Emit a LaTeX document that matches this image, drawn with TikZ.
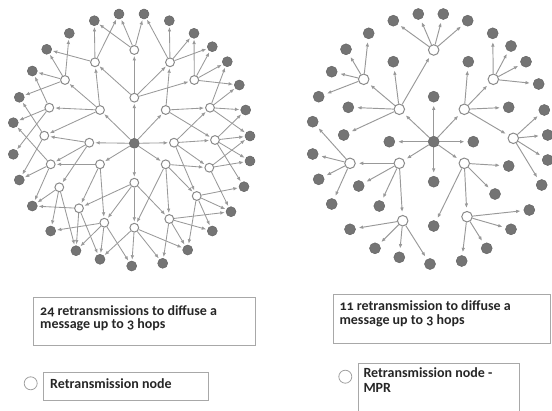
\documentclass[tikz,border=0pt]{standalone}
\usepackage{fontspec}
\setmainfont[Numbers=OldStyle]{Carlito}
\usetikzlibrary{arrows.meta}
\definecolor{gfill}{HTML}{747474}
\definecolor{gdraw}{HTML}{666666}
\definecolor{wdraw}{HTML}{8A8A8A}
\definecolor{edgec}{HTML}{999999}
\definecolor{boxc}{HTML}{A8A8A8}
\definecolor{legc}{HTML}{A0A0A0}
\pgfdeclarelayer{bg}
\pgfsetlayers{bg,main}
\begin{document}
\begin{tikzpicture}[x=1pt,y=-1pt,
  gn/.style={circle,fill=gfill,draw=gdraw,line width=0.5pt,minimum size=10pt,inner sep=0pt},
  wn/.style={circle,fill=white,draw=wdraw,line width=1pt,minimum size=8.8pt,inner sep=0pt},
  gnr/.style={gn,minimum size=11pt},
  wnr/.style={wn,minimum size=10.5pt},
  ar/.style={draw=edgec,line width=0.85pt,-{Latex[length=4.5pt,width=3.6pt]},shorten >=1pt},
  arr/.style={ar,line width=0.95pt,shorten >=3pt},
  txt/.style={anchor=base west,inner sep=0pt,font=\bfseries\fontsize{14}{14}\selectfont,text=black!85},
  tbox/.style={draw=boxc,line width=0.9pt,anchor=north west,inner sep=0pt},
  leg/.style={circle,draw=legc,line width=0.8pt,fill=white,minimum size=13pt,inner sep=0pt}]
\useasboundingbox (0,0) rectangle (552,410);

% ---------------- left graph ----------------
\node[gn] (Lc) at (134.3,143.3) {};
\foreach \n/\x/\y in {1/134.3/50.0,2/95.0/62.3,3/170.0/62.3,4/65.0/80.0,5/194.3/80.0,
  6/134.3/97.7,7/100.0/110.0,8/165.7/110.0,9/49.3/107.7,10/210.0/107.7,
  11/44.3/135.7,12/89.3/142.7,13/174.0/142.7,14/215.0/140.0,15/50.7/164.3,
  16/100.0/164.3,17/165.7/164.3,18/209.3/167.7,19/134.3/182.7,20/59.3/187.3,
  21/196.7/196.0,22/79.0/208.3,23/104.3/222.7,24/169.3/219.0,25/134.3/227.7}
  \node[wn] (Lw\n) at (\x,\y) {};
\foreach \n/\x/\y in {1/94.3/20.7,2/119.0/14.0,3/144.0/14.0,4/169.3/20.7,5/194.0/33.3,
  6/212.3/46.7,7/227.3/61.7,8/239.3/85.0,9/245.7/110.0,10/250.0/136.0,
  11/250.0/161.0,12/244.0/186.7,13/231.0/211.7,14/212.3/231.0,15/187.7/250.0,
  16/162.7/263.3,17/131.7/266.0,18/100.0/259.3,19/76.0/250.7,20/50.7/231.0,
  21/32.3/206.0,22/19.3/180.0,23/13.3/154.3,24/13.3/122.7,25/19.3/97.3,
  26/32.3/71.0,27/46.7/49.3,28/69.3/33.3}
  \node[gn] (Lg\n) at (\x,\y) {};

\begin{pgfonlayer}{bg}
\foreach \a/\b in {Lc/Lw6,Lc/Lw12,Lc/Lw13,Lc/Lw19,Lc/Lw7,Lc/Lw8,Lc/Lw16,Lc/Lw17,
  Lw6/Lw1,Lw6/Lw2,Lw6/Lw3,Lw6/Lw5,
  Lw1/Lg2,Lw1/Lg3,Lw1/Lg1,
  Lw2/Lg1,Lw2/Lg2,Lw2/Lg27,
  Lw7/Lw2,Lw7/Lw4,Lw7/Lw9,Lw7/Lw11,
  Lw4/Lg27,Lw4/Lg26,Lw4/Lg28,Lw4/Lg25,
  Lw3/Lg3,Lw3/Lg4,Lw3/Lg5,Lw3/Lg6,
  Lw8/Lw3,Lw8/Lw10,Lw8/Lw14,
  Lw5/Lg5,Lw5/Lg6,Lw5/Lg7,Lw5/Lg8,
  Lw10/Lg7,Lw10/Lg8,Lw10/Lg9,Lw10/Lg10,
  Lw13/Lw10,Lw13/Lw14,Lw13/Lw18,Lw13/Lw21,
  Lw14/Lg9,Lw14/Lg10,Lw14/Lg11,Lw14/Lg12,
  Lw9/Lg26,Lw9/Lg24,Lw9/Lg23,
  Lw11/Lg25,Lw11/Lg22,
  Lw12/Lw11,Lw12/Lw15,Lw12/Lw20,
  Lw16/Lw15,Lw16/Lw23,Lw16/Lw22,
  Lw15/Lg24,Lw15/Lg22,Lw15/Lg21,
  Lw17/Lw18,Lw17/Lw24,Lw17/Lw21,Lw17/Lw25,
  Lw18/Lg10,Lw18/Lg11,Lw18/Lg13,
  Lw19/Lw25,Lw19/Lw22,Lw19/Lw23,Lw19/Lw24,
  Lw20/Lg21,Lw20/Lg20,Lw20/Lg19,
  Lw22/Lg21,Lw22/Lg19,Lw22/Lg18,
  Lw23/Lg20,Lw23/Lg19,Lw23/Lg18,Lw23/Lg17,
  Lw21/Lg12,Lw21/Lg13,Lw21/Lg14,Lw21/Lg15,
  Lw24/Lg13,Lw24/Lg14,Lw24/Lg15,Lw24/Lg16,
  Lw25/Lg15,Lw25/Lg16,Lw25/Lg17,Lw25/Lg18}
  \draw[ar] (\a) -- (\b);
\end{pgfonlayer}

% ---------------- right graph ----------------
\node[gnr] (Rc) at (433.7,141.7) {};
\foreach \n/\x/\y in {1/433.7/50.0,2/363.7/79.3,3/399.3/109.3,4/464.3/109.3,
  5/493.3/79.3,6/513.3/138.3,7/464.3/163.3,8/399.3/163.3,9/350.0/163.3,
  10/402.7/220.7,11/467.0/216.7}
  \node[wnr] (M\n) at (\x,\y) {};
\foreach \n/\x/\y in {t1/393.3/20.7,t2/418.3/14.0,t3/443.3/14.0,t4/467.7/20.7,
  a1/368.7/33.3,a2/346.0/49.3,a3/331.7/71.7,a4/318.7/96.7,
  b1/393.3/61.7,b2/348.3/107.3,b3/343.7/135.0,
  c1/468.3/61.7,c2/508.7/107.3,
  d1/492.7/33.3,d2/511.0/46.0,d3/526.0/61.7,d4/538.7/84.0,
  e1/544.3/110.0,e2/547.7/135.0,e3/547.7/160.0,e4/541.7/185.0,
  i1/433.7/96.7,i2/389.3/141.7,i3/473.3/141.7,i4/433.7/181.7,
  f1/508.7/166.0,f2/495.0/194.0,f3/433.7/226.0,
  h1/358.7/186.0,h2/379.3/206.0,
  j1/312.7/121.7,j2/312.7/154.0,j3/318.7/179.3,j4/331.7/204.0,
  k1/350.0/229.3,k2/375.0/248.3,k3/399.3/257.3,k4/430.0/264.0,
  l1/529.3/210.0,l2/511.0/229.3,l3/486.7/248.3,l4/461.7/261.0}
  \node[gnr] (R\n) at (\x,\y) {};

\begin{pgfonlayer}{bg}
\foreach \a/\b in {Rc/Ri1,Rc/Ri2,Rc/Ri3,Rc/Ri4,Rc/M3,Rc/M4,Rc/M7,Rc/M8,
  M1/Rt1,M1/Rt2,M1/Rt3,M1/Rt4,
  M2/Ra1,M2/Ra2,M2/Ra3,M2/Ra4,
  M3/M1,M3/M2,M3/Rb1,M3/Rb2,M3/Rb3,
  M4/Rc1,M4/M5,M4/Rc2,M4/M6,
  M5/Rd1,M5/Rd2,M5/Rd3,M5/Rd4,
  M6/Re1,M6/Re2,M6/Re3,M6/Re4,
  M7/Rf1,M7/Rf2,M7/M11,M7/Rf3,
  M8/M9,M8/Rh1,M8/Rh2,M8/M10,
  M9/Rj1,M9/Rj2,M9/Rj3,M9/Rj4,
  M10/Rk1,M10/Rk2,M10/Rk3,M10/Rk4,
  M11/Rl1,M11/Rl2,M11/Rl3,M11/Rl4}
  \draw[arr] (\a) -- (\b);
\end{pgfonlayer}

% ---------------- captions ----------------
\node[tbox,minimum width=221.7pt,minimum height=48.3pt] (box1) at (33.3,296.7) {};
\node[txt] (t1a) at (40,315.3) {24 retransmissions to diffuse a};
\node[txt] (t1b) at (40,328.3) {message up to 3 hops};

\node[tbox,minimum width=217.3pt,minimum height=48.7pt] (box2) at (332.7,294) {};
\node[txt] (t2a) at (339.3,310.7) {11 retransmission to diffuse a};
\node[txt] (t2b) at (339.3,324) {message up to 3 hops};

\node[leg] (leg1) at (30.7,383.3) {};
\node[tbox,minimum width=165pt,minimum height=28.3pt] (lbox1) at (43.3,371.7) {};
\node[txt] (l1) at (50,388.3) {Retransmission node};

\node[leg] (leg2) at (345.3,376.7) {};
\node[tbox,minimum width=161pt,minimum height=52pt] (lbox2) at (357.7,362.7) {};
\node[txt] (l2a) at (363.3,377.3) {Retransmission node -};
\node[txt] (l2b) at (363.3,392.7) {MPR};
\end{tikzpicture}
\end{document}
